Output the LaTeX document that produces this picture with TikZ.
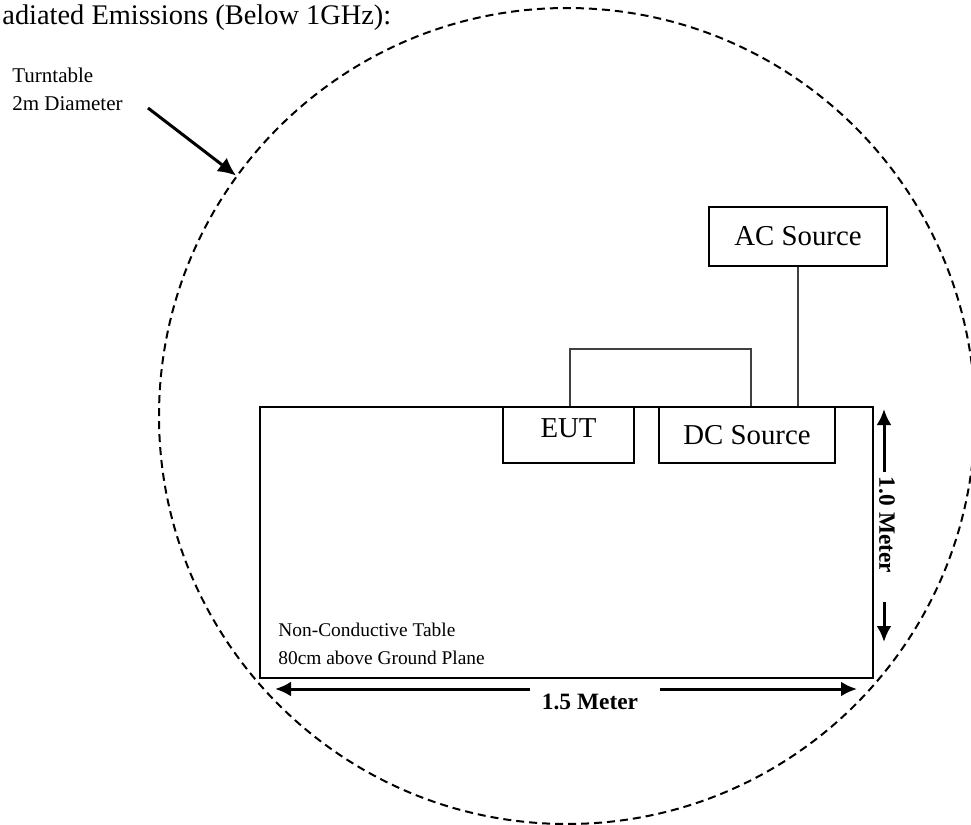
\documentclass[tikz,border=0pt]{standalone}
\usepackage{fontspec}
\setmainfont{Liberation Serif}
\usetikzlibrary{positioning,arrows.meta}

\tikzset{
  box/.style={draw, line width=1pt, inner sep=0pt, font=\fontsize{14.4}{17}\selectfont},
  wire/.style={draw=black!75, line width=0.6pt},
  dimarrow/.style={line width=1.5pt, -{Latex[length=8pt,width=7.5pt]}},
  note/.style={anchor=base west, inner sep=0pt, font=\fontsize{10.5}{12}\selectfont},
  dimlabel/.style={inner sep=0pt, font=\bfseries\fontsize{11.7}{14}\selectfont}
}

\begin{document}
\begin{tikzpicture}[x=0.5pt, y=-0.5pt]
  \useasboundingbox (0,0) rectangle (971,825);
  \node[anchor=base west, inner sep=0pt, font=\fontsize{14.2}{17}\selectfont] (title) at (2,24) {adiated Emissions (Below 1GHz):};
  \node[draw, circle, minimum size=408pt, line width=1pt, dash pattern=on 4pt off 2.5pt] (tt) at (567,416) {};
  \node[note] (turnlbl) at (12,82) {Turntable};
  \node[note] (diamlbl) at (12,110) {2m Diameter};
  \coordinate (turnstart) at (148,108);
  \draw[line width=1.5pt, -{Latex[length=9pt,width=8.5pt]}] (turnstart) -- (tt.144);
  \node[draw, line width=1.4pt, minimum width=306.5pt, minimum height=135.5pt, inner sep=0pt] (table) at (566.5,542.5) {};
  \node[box, minimum width=65.5pt, minimum height=28pt, text depth=7pt] (eut) at (568.5,435) {EUT};
  \node[box, minimum width=88pt, minimum height=28pt] (dc) at (747,435) {DC Source};
  \node[box, minimum width=89pt, minimum height=29.5pt] (ac) at (798,236.5) {AC Source};
  \coordinate (wl) at (570,349);
  \coordinate (wr) at (751,349);
  \draw[wire] (eut.north -| wl) -- (wl) -- (wr) -- (dc.north -| wr);
  \draw[wire] (ac.south) -- (dc.north -| ac.south);
  \node[note, font=\fontsize{9.7}{12}\selectfont] (tbl1) at (278,636) {Non-Conductive Table};
  \node[note, font=\fontsize{9.7}{12}\selectfont] (tbl2) at (278,664) {80cm above Ground Plane};
  \node[dimlabel, anchor=base] (wlab) at (590,709) {1.5 Meter};
  \draw[dimarrow] (530,689) -- (275,689);
  \draw[dimarrow] (660,689) -- (857,689);
  \node[dimlabel, rotate=-90] (hlab) at (887,525) {1.0 Meter};
  \draw[dimarrow] (884,472) -- (884,409);
  \draw[dimarrow] (884,602) -- (884,642);
\end{tikzpicture}
\end{document}
